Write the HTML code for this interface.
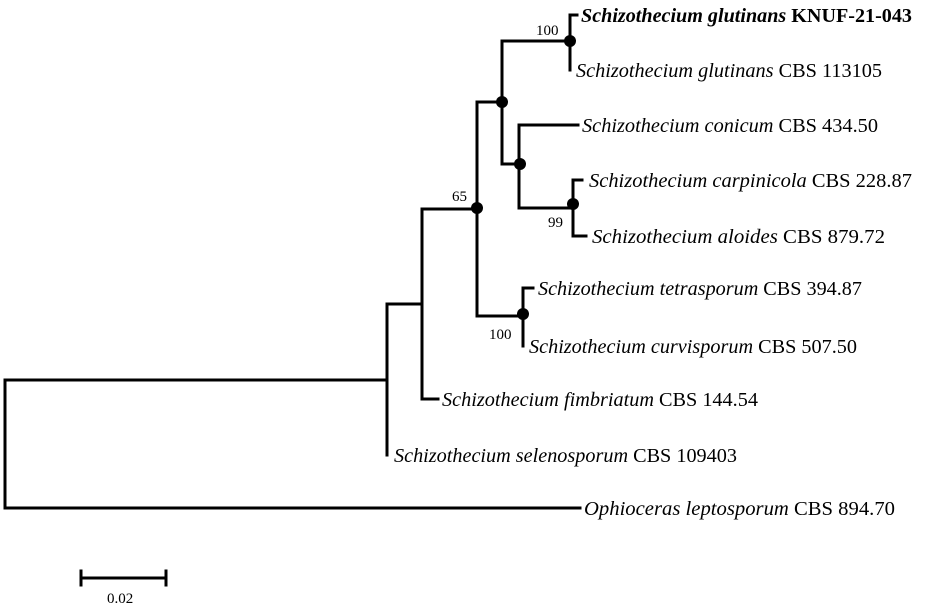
<!DOCTYPE html>
<html><head><meta charset="utf-8"><style>
html,body{margin:0;padding:0;background:#fff;}
svg{display:block;}
text{font-family:"Liberation Serif",serif;fill:#000;}
.t{font-size:20px;}
.b{font-size:15px;}
</style></head><body>
<svg width="925" height="610" viewBox="0 0 925 610" xmlns="http://www.w3.org/2000/svg">
<g stroke="#000" stroke-width="3" fill="none" stroke-linecap="square">
<path d="M5 380 V508"/>
<path d="M5 380 H387"/>
<path d="M5 508 H580"/>
<path d="M387 304 V455"/>
<path d="M387 304 H422"/>
<path d="M422 209 V399"/>
<path d="M422 399 H438"/>
<path d="M422 209 H477"/>
<path d="M477 102 V316"/>
<path d="M477 102 H502"/>
<path d="M477 316 H523"/>
<path d="M523 288 V346"/>
<path d="M523 288 H533"/>
<path d="M502 41 V164"/>
<path d="M502 41 H570"/>
<path d="M502 164 H519"/>
<path d="M570 15 V70"/>
<path d="M570 15 H577"/>
<path d="M519 125 V208"/>
<path d="M519 125 H578"/>
<path d="M519 208 H573"/>
<path d="M573 180 V236"/>
<path d="M573 180 H582"/>
<path d="M573 236 H586"/>
<path d="M81 578 H166"/>
<path d="M81 571 V585"/>
<path d="M166 571 V585"/>
</g>
<g fill="#000">
<circle cx="570" cy="41" r="6"/>
<circle cx="502" cy="102" r="6"/>
<circle cx="520" cy="164" r="6"/>
<circle cx="573" cy="204" r="6"/>
<circle cx="477" cy="208" r="6"/>
<circle cx="523" cy="314" r="6"/>
</g>
<text class="t" x="581" y="22" textLength="331" lengthAdjust="spacingAndGlyphs"><tspan font-style="italic" font-weight="bold">Schizothecium glutinans</tspan><tspan font-weight="bold"> KNUF-21-043</tspan></text>
<text class="t" x="576" y="77" textLength="306" lengthAdjust="spacingAndGlyphs"><tspan font-style="italic">Schizothecium glutinans</tspan> CBS 113105</text>
<text class="t" x="582" y="132" textLength="296" lengthAdjust="spacingAndGlyphs"><tspan font-style="italic">Schizothecium conicum</tspan> CBS 434.50</text>
<text class="t" x="589" y="187" textLength="323" lengthAdjust="spacingAndGlyphs"><tspan font-style="italic">Schizothecium carpinicola</tspan> CBS 228.87</text>
<text class="t" x="592" y="243" textLength="293" lengthAdjust="spacingAndGlyphs"><tspan font-style="italic">Schizothecium aloides</tspan> CBS 879.72</text>
<text class="t" x="538" y="295" textLength="324" lengthAdjust="spacingAndGlyphs"><tspan font-style="italic">Schizothecium tetrasporum</tspan> CBS 394.87</text>
<text class="t" x="529" y="353" textLength="328" lengthAdjust="spacingAndGlyphs"><tspan font-style="italic">Schizothecium curvisporum</tspan> CBS 507.50</text>
<text class="t" x="442" y="406" textLength="316" lengthAdjust="spacingAndGlyphs"><tspan font-style="italic">Schizothecium fimbriatum</tspan> CBS 144.54</text>
<text class="t" x="394" y="462" textLength="343" lengthAdjust="spacingAndGlyphs"><tspan font-style="italic">Schizothecium selenosporum</tspan> CBS 109403</text>
<text class="t" x="584" y="515" textLength="311" lengthAdjust="spacingAndGlyphs"><tspan font-style="italic">Ophioceras leptosporum</tspan> CBS 894.70</text>
<text class="b" x="536" y="35">100</text>
<text class="b" x="452" y="201">65</text>
<text class="b" x="548" y="227">99</text>
<text class="b" x="489" y="339">100</text>
<text class="b" x="107" y="603">0.02</text>
</svg>
</body></html>
